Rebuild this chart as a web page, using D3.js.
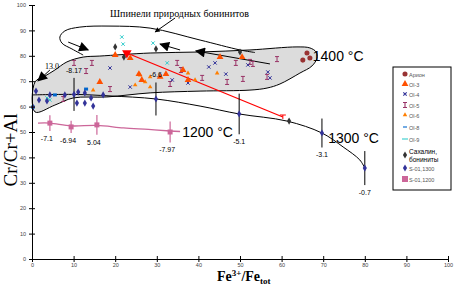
<!DOCTYPE html>
<html>
<head>
<meta charset="utf-8">
<script src="https://cdn.jsdelivr.net/npm/d3@7"></script>
<style>
body { margin: 0; background: #fff; }
svg { display: block; font-family: "Liberation Sans", Arial, sans-serif; }
</style>
</head>
<body>
<svg id="chart" width="454" height="298"></svg>
<script>
// axis ticks
var tickValues = [0, 10, 20, 30, 40, 50, 60, 70, 80, 90, 100];
var xTickLabels = ["0", "10", "20", "30", "40", "50", "60", "70", "80", "90", "100"];
var yTickLabels = ["0", "10", "20", "30", "40", "50", "60", "70", "80", "90", "100"];

// scatter series: [Fe3+/Fetot, Cr/Cr+Al]
var arion = [[65.1, 78.3], [66.1, 81.1], [66.8, 79.1]];
var ol3 = [[16.3, 69.7], [20.0, 80.3], [23.6, 79.1], [25.7, 72.8], [26.4, 70.5], [30.8, 71.7],
    [32.2, 72.8], [36.3, 74.4], [37.5, 70.5], [45.2, 79.5], [50.5, 79.5]];
var ol4 = [[18.75, 75.2], [23.6, 67.7], [33.7, 70.5], [37.5, 69.3], [42.5, 75.6], [44.0, 77.2],
    [46.6, 72.8], [51.9, 76.4], [56.7, 73.6], [57.2, 71.3]];
var ol5 = [[7.5, 63.0], [10.1, 77.2], [13.0, 74.0], [14.4, 77.2], [18.75, 66.9], [33.2, 68.9],
    [34.9, 77.2], [35.8, 74.4], [40.9, 71.3], [46.9, 69.7], [49.0, 77.2], [50.7, 70.9],
    [52.4, 77.6], [53.1, 76.8], [56.5, 71.7], [58.9, 78.7]];
var ol6 = [[14.7, 66.5], [24.8, 68.5], [26.0, 72.4], [27.2, 69.7], [28.4, 67.7], [28.4, 71.7],
    [37.5, 73.2], [39.2, 70.5], [44.5, 73.2]];
var ol8 = [[5.5, 64.6], [13.0, 66.9]];
var ol9 = [[0.24, 59.8], [3.6, 63.4], [4.3, 62.6], [21.6, 87.4], [21.9, 84.6], [29.1, 85.0], [32.5, 77.2]];
var sakhalin = [[20.0, 83.5], [22.1, 79.5], [29.8, 82.7], [50.0, 81.5], [61.8, 54.3]];
var s1300 = [[0.24, 59.8], [0.96, 66.1], [1.68, 62.6], [3.6, 62.2], [4.3, 64.6], [7.9, 64.6],
    [10.8, 61.4], [11.1, 65.7], [12.7, 65.4], [12.7, 61.4], [14.2, 63.4], [14.7, 60.2], [17.1, 64.6]];

// experimental runs with error bars and fO2 labels
var run1300X = [10.1, 29.8, 49.8, 69.7, 80.0];
var run1300Y = [64.8, 63.0, 57.1, 49.6, 35.8];
var run1300Err = [6.5, 6.5, 8, 5.7, 6.7];
var run1300Lbl = ["-8.17", "-6.6", "-5.1", "-3.1", "-0.7"];
var run1200X = [4.3, 9.4, 15.6, 33.2];
var run1200Y = [53.5, 52.0, 52.8, 50.0];
var run1200Err = [3.1, 2.4, 3.9, 4.1];
var run1200Lbl = ["-7.1", "-6.94", "5.04", "-7.97"];

// isotherms and trends
var iso1300 = [[0.24, 64.6], [10.1, 64.8], [18.75, 64.2], [29.8, 63.0], [40.4, 60.2], [49.8, 57.1],
    [61.3, 54.3], [69.7, 49.6], [74.8, 44.1], [78.8, 39.0], [80.0, 35.8]];
var iso1200 = [[1.44, 53.5], [4.3, 53.5], [9.4, 52.4], [15.6, 52.6], [22.0, 51.6], [28.0, 51.0],
    [33.2, 50.4], [35.6, 50.2]];
var redTrend = [[22.8, 81.1], [60.3, 55.9]];

// fields
var expField = [[0.72, 69.7], [3.1, 72.0], [5.5, 74.4], [8.4, 77.6], [12.3, 79.5], [16.3, 79.9],
    [28.4, 81.1], [40.4, 81.5], [52.4, 82.3], [63.7, 83.5], [66.8, 83.1], [68.3, 81.5], [68.5, 79.1],
    [67.3, 76.0], [64.4, 73.2], [59.6, 68.9], [56.5, 67.3], [52.4, 66.5], [40.4, 66.1], [28.4, 65.4],
    [18.0, 63.8], [9.9, 63.4], [5.5, 60.6], [0.72, 57.9]];
var naturalField = [[12.3, 80.3], [9.6, 82.7], [7.2, 85.0], [6.7, 87.4], [7.9, 89.8], [11.5, 91.3],
    [18.75, 91.7], [28.4, 90.9], [40.4, 86.2], [50.0, 82.3], [53.6, 81.3]];

// arrows [tail, head]
var bigArrows = [
    [[4.3, 74.4], [1.44, 70.1]],
    [[8.7, 85.4], [13.5, 82.3]],
    [[35.6, 82.3], [30.8, 84.6]],
    [[57.2, 76.8], [39.4, 81.9]]
];
var textPointer = [[34.4, 94.9], [29.6, 89.4]];

// annotations
var isoLabels = [
    {t: "1400 °С", x: 67.5, y: 78.0},
    {t: "1300 °С", x: 71.2, y: 45.7},
    {t: "1200 °С", x: 36.1, y: 48.0}
];
var fieldTitle = {t: "Шпинели природных бонинитов", x: 18.75, y: 95.3};
var startLabel = {t: "13.0", x: 3.1, y: 74.8};

var legendLabels = ["Арион", "Ol-3", "Ol-4", "Ol-5", "Ol-6", "Ol-8", "Ol-9",
    "Сахалин,", "бониниты", "S-01,1300", "S-01,1200"];

(function () {
    var svg = d3.select("#chart");

    var x = d3.scaleLinear().domain([0, 100]).range([32, 448]);
    var y = d3.scaleLinear().domain([0, 100]).range([259, 5]);

    var defs = svg.append("defs");
    defs.append("marker").attr("id", "bigHead")
        .attr("viewBox", "0 0 10 10").attr("refX", 9).attr("refY", 5)
        .attr("markerWidth", 11).attr("markerHeight", 10)
        .attr("markerUnits", "userSpaceOnUse").attr("orient", "auto")
        .append("path").attr("d", "M0,0L10,5L0,10Z").attr("fill", "#000");
    defs.append("marker").attr("id", "smallHead")
        .attr("viewBox", "0 0 10 10").attr("refX", 9).attr("refY", 5)
        .attr("markerWidth", 6).attr("markerHeight", 5)
        .attr("markerUnits", "userSpaceOnUse").attr("orient", "auto")
        .append("path").attr("d", "M0,0L10,5L0,10Z").attr("fill", "#000");

    var closedLine = d3.line().x(d => x(d[0])).y(d => y(d[1])).curve(d3.curveCatmullRomClosed.alpha(0.5));
    var openLine = d3.line().x(d => x(d[0])).y(d => y(d[1])).curve(d3.curveCatmullRom.alpha(0.5));
    var straight = d3.line().x(d => x(d[0])).y(d => y(d[1]));

    // experimental field (grey) and natural boninite spinel outline
    svg.append("path").attr("d", closedLine(expField))
        .attr("fill", "#dcdcdc").attr("stroke", "#000").attr("stroke-width", 1);
    svg.append("path").attr("d", openLine(naturalField))
        .attr("fill", "none").attr("stroke", "#000").attr("stroke-width", 1);

    // isotherms
    svg.append("path").attr("d", openLine(iso1300))
        .attr("fill", "none").attr("stroke", "#000").attr("stroke-width", 1);
    svg.append("path").attr("d", openLine(iso1200))
        .attr("fill", "none").attr("stroke", "#cc6699").attr("stroke-width", 1.3);
    svg.append("path").attr("d", straight(redTrend))
        .attr("fill", "none").attr("stroke", "#ff0000").attr("stroke-width", 1.2);

    // arrows
    svg.append("g").selectAll("path").data(bigArrows).join("path")
        .attr("d", d => straight(d)).attr("stroke", "#000").attr("fill", "none")
        .attr("marker-end", "url(#bigHead)");
    svg.append("path").attr("d", straight(textPointer)).attr("stroke", "#000")
        .attr("marker-end", "url(#smallHead)");

    // error bars
    var eb = svg.append("g");
    eb.selectAll(".e13").data(run1300X).join("line").attr("class", "e13")
        .attr("x1", d => x(d)).attr("x2", d => x(d))
        .attr("y1", (d, i) => y(run1300Y[i] + run1300Err[i]))
        .attr("y2", (d, i) => y(run1300Y[i] - run1300Err[i]))
        .attr("stroke", "#000");
    eb.selectAll(".e12").data(run1200X).join("line").attr("class", "e12")
        .attr("x1", d => x(d)).attr("x2", d => x(d))
        .attr("y1", (d, i) => y(run1200Y[i] + run1200Err[i]))
        .attr("y2", (d, i) => y(run1200Y[i] - run1200Err[i]))
        .attr("stroke", "#cc6699").attr("stroke-width", 1.2);

    // marker helpers
    function pos(d) { return "translate(" + x(d[0]) + "," + y(d[1]) + ")"; }
    function symbols(data, shape, fill, stroke, rot) {
        svg.append("g").selectAll("path").data(data).join("path")
            .attr("transform", d => pos(d) + (rot ? " rotate(" + rot + ")" : ""))
            .attr("d", shape)
            .attr("fill", fill || "none")
            .attr("stroke", stroke || "none")
            .attr("stroke-width", 1);
    }
    var ibar = "M-2,-2.5H2M0,-2.5V2.5M-2,2.5H2";
    var xmark = "M-1.7,-1.7L1.7,1.7M-1.7,1.7L1.7,-1.7";

    symbols(ol5, ibar, null, "#993366");
    symbols(ol4, xmark, null, "#333399");
    symbols(ol9, xmark, null, "#33cccc");
    symbols(ol8, "M-2,-1.5H2V1.5H-2Z", "#0066cc");
    symbols(ol6, d3.symbol(d3.symbolTriangle, 9)(), "#ff7f00");
    symbols(ol3, d3.symbol(d3.symbolTriangle, 20)(), "#ff5000");
    symbols(s1300, d3.symbol(d3.symbolDiamond, 15)(), "#333399");
    symbols(sakhalin, d3.symbol(d3.symbolDiamond, 15)(), "#333333");
    symbols(arion, d3.symbol(d3.symbolCircle, 20)(), "#993333");

    // run points
    symbols(run1300X.map((d, i) => [d, run1300Y[i]]), d3.symbol(d3.symbolDiamond, 15)(), "#333399");
    symbols(run1200X.map((d, i) => [d, run1200Y[i]]), "M-2.5,-2.5H2.5V2.5H-2.5Z", "#cc6699");

    // red trend ends
    symbols([redTrend[0]], d3.symbol(d3.symbolTriangle, 40)(), "#ff0000", null, 180);
    symbols([redTrend[1]], "M-3,-2H3M0,-2V2", null, "#ff0000");

    // fO2 labels
    svg.append("g").selectAll("text").data(run1300X).join("text")
        .attr("x", d => x(d))
        .attr("y", (d, i) => i < 2 ? y(run1300Y[i] + run1300Err[i]) - 5 : y(run1300Y[i] - run1300Err[i]) + 10)
        .attr("text-anchor", "middle").attr("font-size", 7)
        .text((d, i) => run1300Lbl[i]);
    svg.append("g").selectAll("text").data(run1200X).join("text")
        .attr("x", d => x(d) - 3)
        .attr("y", (d, i) => y(run1200Y[i] - run1200Err[i]) + 10)
        .attr("text-anchor", "middle").attr("font-size", 7)
        .text((d, i) => run1200Lbl[i]);
    svg.append("text").attr("x", x(startLabel.x)).attr("y", y(startLabel.y))
        .attr("font-size", 8).attr("font-family", "Liberation Serif, serif").text(startLabel.t);

    // isotherm labels
    svg.append("g").selectAll("text").data(isoLabels).join("text")
        .attr("x", d => x(d.x)).attr("y", d => y(d.y))
        .attr("font-size", 14).text(d => d.t);

    svg.append("text").attr("x", x(fieldTitle.x)).attr("y", y(fieldTitle.y))
        .attr("font-size", 10).attr("font-family", "Liberation Serif, serif")
        .text(fieldTitle.t);

    // axes
    var xAxis = svg.append("g").attr("transform", "translate(0," + y(0) + ")")
        .call(d3.axisBottom(x).tickValues(tickValues).tickFormat((d, i) => xTickLabels[i])
            .tickSize(3).tickSizeOuter(0).tickPadding(1));
    xAxis.selectAll(".tick line").attr("y1", -3);
    xAxis.selectAll("text").attr("font-size", 5.5).attr("fill", "#444");

    var yAxis = svg.append("g").attr("transform", "translate(" + x(0) + ",0)")
        .call(d3.axisLeft(y).tickValues(tickValues).tickFormat((d, i) => yTickLabels[i])
            .tickSize(3).tickSizeOuter(0).tickPadding(3));
    yAxis.selectAll(".tick line").attr("x1", 3);
    yAxis.selectAll("text").attr("font-size", 5.5).attr("fill", "#444");

    // axis titles
    svg.append("text")
        .attr("transform", "translate(17,150) rotate(-90)")
        .attr("text-anchor", "middle")
        .attr("font-family", "Liberation Serif, serif").attr("font-size", 19)
        .text("Cr/Cr+Al");

    var xt = svg.append("text").attr("x", 217).attr("y", 281)
        .attr("font-family", "Liberation Serif, serif").attr("font-weight", "bold").attr("font-size", 14);
    xt.append("tspan").text("Fe");
    xt.append("tspan").attr("dy", -5).attr("font-size", 9).text("3+");
    xt.append("tspan").attr("dy", 5).text("/Fe");
    xt.append("tspan").attr("dy", 3).attr("font-size", 9).text("tot");

    // legend
    var lg = svg.append("g").attr("transform", "translate(393,67)");
    lg.append("rect").attr("width", 58).attr("height", 123)
        .attr("fill", "#fff").attr("stroke", "#000");
    var rowY = [7, 17, 27, 38, 48, 60, 72, 84, 92, 101, 112];
    var mk = [
        {d: d3.symbol(d3.symbolCircle, 20)(), f: "#993333"},
        {d: d3.symbol(d3.symbolTriangle, 20)(), f: "#ff5000"},
        {d: xmark, s: "#333399"},
        {d: ibar, s: "#993366"},
        {d: d3.symbol(d3.symbolTriangle, 9)(), f: "#ff7f00"},
        {d: "M-2,0H2", s: "#0066cc"},
        {d: "M-3,0H3", s: "#33cccc"},
        {d: d3.symbol(d3.symbolDiamond, 15)(), f: "#333333"},
        null,
        {d: d3.symbol(d3.symbolDiamond, 15)(), f: "#333399"},
        {d: "M-3,-3H3V3H-3Z", f: "#cc6699"}
    ];
    legendLabels.forEach(function (t, i) {
        var m = mk[i];
        if (m) {
            lg.append("path").attr("d", m.d)
                .attr("transform", "translate(12," + (i == 7 ? 88 : rowY[i]) + ")")
                .attr("fill", m.f || "none").attr("stroke", m.s || "none").attr("stroke-width", 1.1);
        }
        var bold = (i == 7 || i == 8);
        lg.append("text").attr("x", 16).attr("y", rowY[i] + 2.5)
            .attr("font-size", bold ? 6.5 : 5.5)
            .attr("fill", bold ? "#000" : "#555")
            .text(t);
    });
})();
</script>
</body>
</html>
